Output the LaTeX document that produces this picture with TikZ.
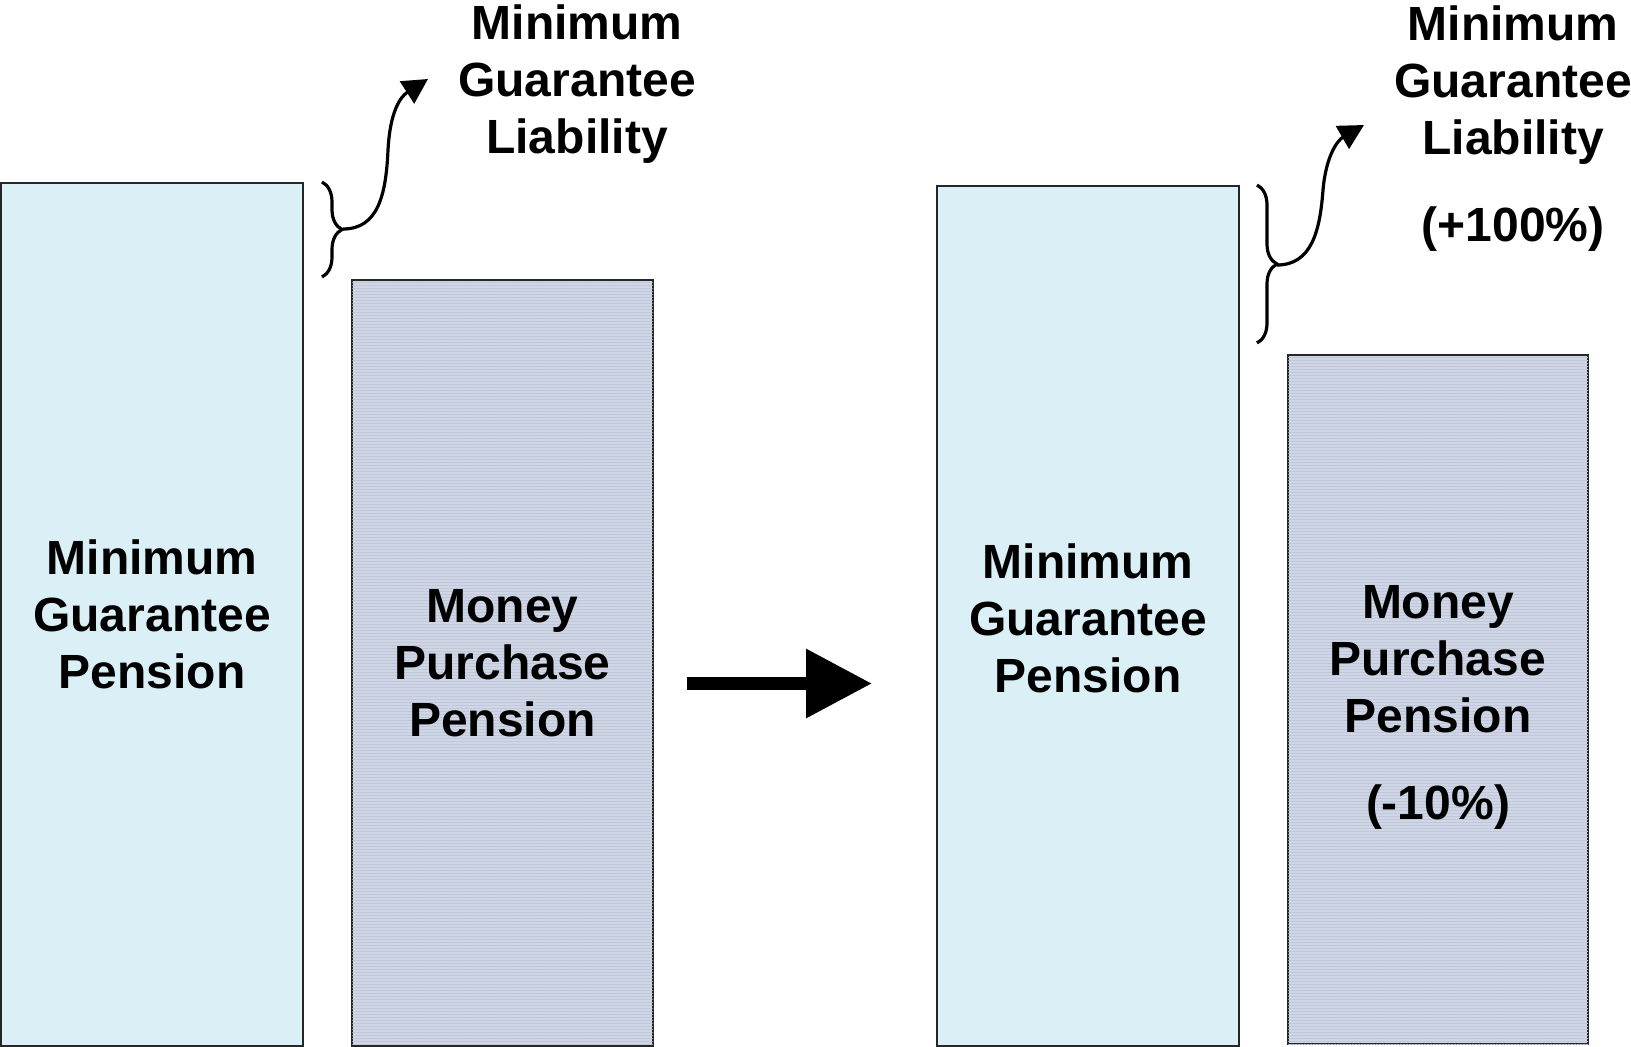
\documentclass[tikz,border=0pt]{standalone}
\usepackage{fontspec}
\setmainfont{Liberation Sans}
\usetikzlibrary{arrows.meta,decorations.pathreplacing,patterns.meta}
\definecolor{mgp}{RGB}{218,240,246}
\definecolor{mpp}{RGB}{207,214,230}
\definecolor{mpline}{RGB}{190,198,216}
\begin{document}
\begin{tikzpicture}[x=1pt,y=-1pt,
  txt/.style={font=\bfseries\fontsize{48}{57}\selectfont, align=center, text=black, inner sep=0pt},
  gbox/.style={draw=black!85, line width=2pt, fill=mgp, anchor=north west, inner sep=0pt, txt},
  pbox/.style={draw=black!85, line width=2pt, fill=mpp,
     postaction={pattern={Lines[angle=0,distance=3pt,line width=0.8pt]}, pattern color=mpline},
     anchor=north west, inner sep=0pt, txt},
  brc/.style={decorate, decoration={brace, amplitude=20pt}, line width=3.2pt},
  lnk/.style={line width=3.2pt, -{Triangle[length=25pt,width=26pt]}},
  bigarrow/.style={line width=13pt, -{Triangle[length=66pt,width=66pt]}}]
\useasboundingbox (0,0) rectangle (1631,1047);
\fill[white] (0,0) rectangle (1631,1047);

% boxes
\node[gbox, minimum width=302pt, minimum height=863pt] (g1) at (0,182)
  {Minimum\\Guarantee\\Pension};
\node[pbox, minimum width=301pt, minimum height=766pt] (p1) at (351,279)
  {Money\\Purchase\\Pension};
\node[gbox, minimum width=302pt, minimum height=860pt] (g2) at (936,185)
  {\rule{0pt}{40pt}Minimum\\Guarantee\\Pension};
\node[pbox, minimum width=300pt, minimum height=689pt] (p2) at (1287,354)
  {\rule{0pt}{49pt}Money\\Purchase\\Pension\\[30pt](-10\%)};

% labels
\node[txt] (l1) at (577,84) {Minimum\\Guarantee\\Liability};
\node[txt] (l2) at (1513,129) {Minimum\\Guarantee\\Liability\\[30pt](+100\%)};

% braces
\coordinate (b1a) at (322,182);
\coordinate (b1b) at (322,277);
\coordinate (b1t) at (343,229);
\coordinate (e1) at (428,79);
\draw[brc] (b1a) -- (b1b);
\draw[lnk] (b1t) .. controls (378,229) and (386,195) .. (388,150)
  .. controls (390,112) and (400,97) .. (e1);

\coordinate (b2a) at (1257,185);
\coordinate (b2b) at (1257,343);
\coordinate (b2t) at (1277,265);
\coordinate (e2) at (1364,125);
\draw[brc] (b2a) -- (b2b);
\draw[lnk] (b2t) .. controls (1312,265) and (1320,230) .. (1323,190)
  .. controls (1326,155) and (1338,140) .. (e2);

% main arrow
\coordinate (a1) at (687,683.5);
\coordinate (a2) at (872,683.5);
\draw[bigarrow] (a1) -- (a2);
\end{tikzpicture}
\end{document}
